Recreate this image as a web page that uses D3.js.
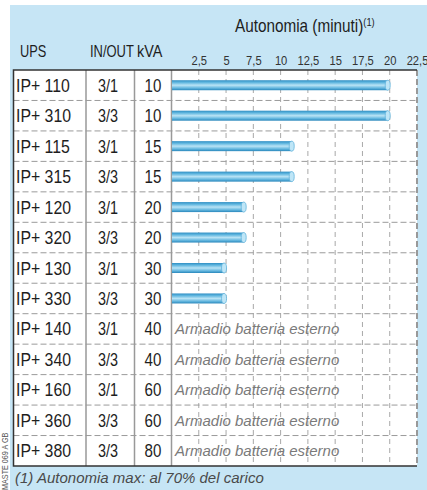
<!DOCTYPE html>
<html>
<head>
<meta charset="utf-8">
<script src="https://cdn.jsdelivr.net/npm/d3@7"></script>
<style>
  html, body { margin: 0; padding: 0; background: #fff; }
  svg { display: block; }
  text { font-family: "Liberation Sans", Arial, sans-serif; }
</style>
</head>
<body>
<svg id="chart" width="427" height="490"></svg>
<script>
// ---- data ----
const models   = ["IP+ 110","IP+ 310","IP+ 115","IP+ 315","IP+ 120","IP+ 320","IP+ 130","IP+ 330","IP+ 140","IP+ 340","IP+ 160","IP+ 360","IP+ 380"];
const inOut    = ["3/1","3/3","3/1","3/3","3/1","3/3","3/1","3/3","3/1","3/3","3/1","3/3","3/3"];
const kva      = [10,10,15,15,20,20,30,30,40,40,60,60,80];
const autonomy = [20,20,11.2,11.2,6.8,6.8,5,5,null,null,null,null,null];
const tickValues = [2.5,5,7.5,10,12.5,15,17.5,20,22.5];
const noBatteryLabel = "Armadio batteria esterno";
const headers = ["UPS","IN/OUT","kVA"];
const title = "Autonomia (minuti)";
const titleSup = "(1)";
const footnote = "(1) Autonomia max: al 70% del carico";
const sideCode = "MASTE 069 A GB";

// ---- layout ----
const svg = d3.select("#chart");
const tableLeft = 13.5, tableTop = 70, tableBottom = 466;
const col1 = 86, col2 = 134.5, chartLeft = 171.5, chartRight = 417;

const x = d3.scaleLinear().domain([0, 22.5]).range([chartLeft, chartRight]);
const y = d3.scaleBand().domain(models).range([tableTop, tableBottom]).paddingInner(0).paddingOuter(0);

// condensed text helper
function cText(parent, txt, px, py, size, sx, anchor) {
  return parent.append("text")
    .attr("transform", `translate(${px},${py}) scale(${sx},1)`)
    .attr("font-size", size).attr("text-anchor", anchor || "start")
    .text(txt);
}

// background
svg.append("rect").attr("x", 10).attr("y", 5).attr("width", 417).attr("height", 485).attr("fill", "#c6e5f5");
// table white
svg.append("rect").attr("x", tableLeft).attr("y", tableTop).attr("width", chartRight - tableLeft).attr("height", tableBottom - tableTop).attr("fill", "#fff");

// gradient
const defs = svg.append("defs");
const grad = defs.append("linearGradient").attr("id", "barGrad").attr("x1", 0).attr("x2", 0).attr("y1", 0).attr("y2", 1);
[["0%","#2f8ec3"],["22%","#5fb6df"],["50%","#b9e3f5"],["78%","#64b7df"],["100%","#2886bb"]]
  .forEach(([o,c]) => grad.append("stop").attr("offset", o).attr("stop-color", c));

// vertical grid
svg.append("g").selectAll("line").data(tickValues.slice(0, -1)).join("line")
  .attr("x1", d => x(d)).attr("x2", d => x(d))
  .attr("y1", tableTop).attr("y2", tableBottom)
  .attr("stroke", "#a8a8a8").attr("stroke-width", 1).attr("stroke-dasharray", "5,4");

// horizontal row separators
svg.append("g").selectAll("line").data(models.slice(1)).join("line")
  .attr("x1", tableLeft).attr("x2", chartRight)
  .attr("y1", d => y(d)).attr("y2", d => y(d))
  .attr("stroke", "#9a9a9a").attr("stroke-width", 1).attr("stroke-dasharray", "6,3");

// column separators
[col1, col2, chartLeft].forEach(cx => {
  svg.append("line").attr("x1", cx).attr("x2", cx).attr("y1", tableTop).attr("y2", tableBottom)
    .attr("stroke", "#999").attr("stroke-width", 1.5);
});

// right dashed border
svg.append("line").attr("x1", chartRight).attr("x2", chartRight).attr("y1", tableTop).attr("y2", tableBottom)
  .attr("stroke", "#999").attr("stroke-width", 2).attr("stroke-dasharray", "6,3");

// outer solid borders
svg.append("path")
  .attr("d", `M${chartRight},${tableTop} H${tableLeft} V${tableBottom} H${chartRight}`)
  .attr("fill", "none").attr("stroke", "#333").attr("stroke-width", 1.5);

// bars
const barH = 10;
const rows = models.map((m, i) => ({ model: m, io: inOut[i], kva: kva[i], v: autonomy[i] }));
const withBar = rows.filter(r => r.v != null);
svg.append("g").selectAll("rect").data(withBar).join("rect")
  .attr("x", x(0) + 0.5)
  .attr("y", d => y(d.model) + y.bandwidth() / 2 - barH / 2)
  .attr("width", d => x(d.v) - x(0) - 2.5)
  .attr("height", barH)
  .attr("fill", "url(#barGrad)");
svg.append("g").selectAll("ellipse").data(withBar).join("ellipse")
  .attr("cx", d => x(d.v) - 2)
  .attr("cy", d => y(d.model) + y.bandwidth() / 2)
  .attr("rx", 2.5).attr("ry", barH / 2)
  .attr("fill", "#bfe6f7").attr("stroke", "#62b4dc").attr("stroke-width", 0.8);

// no-battery labels
svg.append("g").selectAll("text").data(rows.filter(r => r.v == null)).join("text")
  .attr("x", chartLeft + 3.5)
  .attr("y", d => y(d.model) + y.bandwidth() / 2)
  .attr("dy", "0.36em")
  .attr("font-style", "italic").attr("font-size", 15).attr("fill", "#7a7a7a")
  .text(noBatteryLabel);

// row labels
const rowG = svg.append("g").attr("fill", "#1e1e1e");
rows.forEach(r => {
  const cy = y(r.model) + y.bandwidth() / 2 + 6.5;
  cText(rowG, r.model, 16, cy, 18, 0.88, "start");
  cText(rowG, r.io, 108, cy, 18, 0.8, "middle");
  cText(rowG, r.kva, 153, cy, 18, 0.84, "middle");
});

// headers
const hG = svg.append("g").attr("fill", "#1e1e1e");
cText(hG, headers[0], 20, 57, 16, 0.8, "start");
cText(hG, headers[1], 90, 57, 16, 0.81, "start");
cText(hG, headers[2], 137, 57, 16, 0.9, "start");

// title
const t = cText(svg, "", 235, 32, 18, 0.85, "start").attr("fill", "#1e1e1e");
t.append("tspan").text(title);
t.append("tspan").attr("font-size", 11).attr("dy", -6).text(titleSup);

// axis
const axis = d3.axisTop(x).tickValues(tickValues).tickSize(0).tickPadding(5)
  .tickFormat(d => String(d).replace(".", ","));
const ag = svg.append("g").attr("transform", `translate(0,${tableTop})`).call(axis);
ag.select(".domain").remove();
ag.selectAll("text").attr("font-size", 13).attr("fill", "#333")
  .style("font-family", "'Liberation Sans', Arial, sans-serif")
  .attr("transform", "scale(0.86,1)");

// footnote
svg.append("text").attr("x", 15).attr("y", 483)
  .attr("font-style", "italic").attr("font-size", 15).attr("fill", "#4a4a4a")
  .text(footnote);

// side code
cText(svg, sideCode, 8, 490, 8.5, 1, "start")
  .attr("transform", "translate(8,490) rotate(-90) scale(0.85,1)")
  .attr("fill", "#555");
</script>
</body>
</html>
